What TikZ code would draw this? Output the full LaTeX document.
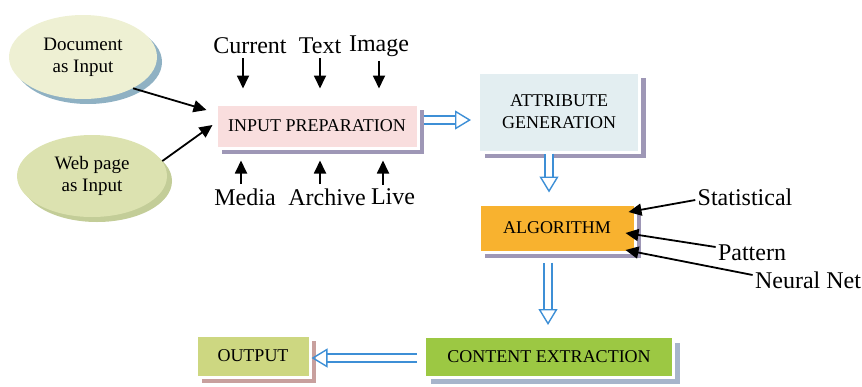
\documentclass[tikz,border=0pt]{standalone}
\usepackage{fontspec}
\setmainfont{Liberation Serif}
\usetikzlibrary{shapes.geometric,arrows.meta,shadows,positioning}
\definecolor{docfill}{HTML}{EEF0D3}
\definecolor{webfill}{HTML}{DCE2B0}
\definecolor{docshade}{HTML}{8FB1C3}
\definecolor{webshade}{HTML}{C3CD98}
\definecolor{inpfill}{HTML}{F9DEDE}
\definecolor{attrfill}{HTML}{E3EEF1}
\definecolor{algfill}{HTML}{F8B22F}
\definecolor{extfill}{HTML}{9CC843}
\definecolor{outfill}{HTML}{CDD781}
\definecolor{boxshade}{HTML}{9E97B6}
\definecolor{outshade}{HTML}{C8A09E}
\definecolor{extshade}{HTML}{A7B5CB}
\definecolor{flowblue}{HTML}{3D8FD6}
\tikzset
{
    inputnode/.style = {ellipse, align=center, font=\fontsize{9.5}{11}\selectfont,
                        general shadow={fill=#1, shadow xshift=2.5pt, shadow yshift=-2.5pt}},
    procbox/.style   = {rectangle, draw=white, line width=1.5pt, align=center, font=\fontsize{9}{11}\selectfont,
                        general shadow={fill=#1, shadow xshift=3pt, shadow yshift=-3pt}},
    sidetext/.style  = {font=\fontsize{12}{14}\selectfont, inner sep=1pt},
    ptr/.style       = {-{Triangle[length=6.5pt,width=6pt]}, line width=0.9pt},
    flow/.style      = {draw=flowblue, line width=0.7pt, double=white, double distance=3.2pt,
                        -{Triangle[open,length=8pt,width=9.5pt]}}
}
\begin{document}
\begin{tikzpicture}[x=0.5pt,y=-0.5pt]
\useasboundingbox (0,0) rectangle (862,386);
\node [inputnode=docshade, fill=docfill, minimum width=74pt, minimum height=42pt] at (83,57) (docin) {Document\\as Input};
\node [inputnode=webshade, fill=webfill, minimum width=75pt, minimum height=41pt] at (92,176) (webin) {Web page\\as Input};
\node [procbox=boxshade, fill=inpfill, minimum width=101pt, minimum height=22pt] at (317,126) (inp) {INPUT PREPARATION};
\node [procbox=boxshade, fill=attrfill, minimum width=80.5pt, minimum height=40pt] at (559,112) (attr) {ATTRIBUTE\\GENERATION};
\node [procbox=boxshade, fill=algfill, minimum width=78pt, minimum height=24pt] at (557,228) (alg) {ALGORITHM};
\node [procbox=extshade, fill=extfill, minimum width=124.5pt, minimum height=20.5pt] at (549,357) (ext) {CONTENT EXTRACTION};
\node [procbox=outshade, fill=outfill, minimum width=57pt, minimum height=21pt] at (253,356) (out) {OUTPUT};
% labels round input preparation
\node [sidetext] at (250,46) (cur) {Current};
\node [sidetext] at (320,46) (txt) {Text};
\node [sidetext] at (379,46) (img) {Image};
\node [sidetext] at (245,197) (med) {Media};
\node [sidetext] at (327,197) (arc) {Archive};
\node [sidetext] at (393,197) (liv) {Live};
% labels of the algorithm
\node [sidetext] at (745,197) (sta) {Statistical};
\node [sidetext] at (752,253) (pat) {Pattern};
\node [sidetext] at (808,280) (neu) {Neural Net};
\draw [ptr] (docin.-32) -- ([xshift=-4pt,yshift=8pt]inp.west);
\draw [ptr] (webin.12) -- ([xshift=-1pt,yshift=0.5pt]inp.west);
\draw [ptr, shorten <=1pt, shorten >=7pt] ([xshift=-3.5pt]cur.south) -- ([xshift=-3.5pt]cur.south |- inp.north);
\draw [ptr, shorten <=1pt, shorten >=7pt] (txt.south) -- (txt.south |- inp.north);
\draw [ptr, shorten <=1pt, shorten >=7pt] (img.south) -- (img.south |- inp.north);
\draw [ptr, shorten <=1pt, shorten >=5.5pt] ([xshift=-2pt]med.north) -- ([xshift=-2pt]med.north |- inp.south);
\draw [ptr, shorten <=1pt, shorten >=5.5pt] ([xshift=-3.5pt]arc.north) -- ([xshift=-3.5pt]arc.north |- inp.south);
\draw [ptr, shorten <=1pt, shorten >=5.5pt] ([xshift=-5pt]liv.north) -- ([xshift=-5pt]liv.north |- inp.south);
\draw [ptr] ([yshift=-1.5pt]sta.west) -- ([xshift=-4pt,yshift=8pt]alg.east);
\draw [ptr] ([yshift=3pt]pat.west) -- ([xshift=-5.5pt,yshift=-2.5pt]alg.east);
\draw [ptr] ([yshift=2.5pt]neu.west) -- ([xshift=-5.5pt,yshift=-11pt]alg.east);
% main flow
\draw [flow, shorten <=2pt, shorten >=3pt] ([yshift=3pt]inp.east) -- ([yshift=3pt]inp.east -| attr.west);
\draw [flow, shorten >=5pt] ([xshift=-5pt]attr.south) -- ([xshift=-5pt]attr.south |- alg.north);
\draw [flow, shorten <=4.5pt, shorten >=5pt] ([xshift=-4.5pt]alg.south) -- ([xshift=-4.5pt]alg.south |- ext.north);
\draw [flow, shorten <=3pt] ([yshift=-0.5pt]ext.west) -- ([yshift=-0.5pt]ext.west -| out.east);
\end{tikzpicture}
\end{document}
